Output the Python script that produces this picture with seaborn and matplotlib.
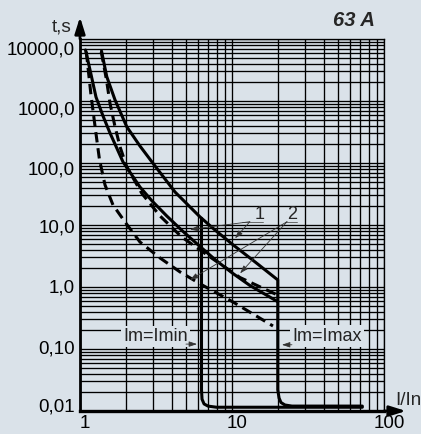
import matplotlib
matplotlib.use("Agg")
import matplotlib.pyplot as plt
import matplotlib.transforms as mtransforms
from matplotlib.ticker import FixedLocator, FixedFormatter, NullFormatter
import numpy as np
import pandas as pd
import seaborn as sns

# ---------------- data (I/In , t in s) ----------------
# curve 1, upper boundary (continues into the Im=Imax release at 20 In)
c1_upper_I = [1.385, 1.50, 1.70, 2.03, 2.48, 3.02, 4.22, 6.16, 7.73, 10.2, 14.2, 20.0,
              20.0, 20.4, 21.0, 22.3, 24.8, 72.0]
c1_upper_t = [6400, 2470, 1040, 385, 188, 99, 34, 13.5, 8.3, 4.75, 2.53, 1.30,
              0.022, 0.0162, 0.0137, 0.0125, 0.0120, 0.0120]
# Im=Imin release branch
imin_I = [6.3, 6.3, 6.35, 6.55, 6.95, 7.9, 72.0]
imin_t = [12.8, 0.022, 0.0155, 0.0130, 0.0120, 0.0115, 0.0115]
# curve 1, lower boundary
c1_lower_I = [1.087, 1.172, 1.274, 1.417, 1.575, 1.919, 2.48, 2.98, 3.72, 4.78, 6.16,
              7.93, 10.15, 13.1, 20.0]
c1_lower_t = [6650, 2940, 1160, 573, 305, 104, 41, 24.4, 14.0, 7.8, 4.5, 2.63, 1.65,
              1.06, 0.58]
# curve 2 (dashed), upper boundary
c2_upper_I = [1.38, 1.494, 1.575, 1.70, 1.833, 2.03, 2.55, 3.36, 4.67, 7.17, 11.3, 20.0]
c2_upper_t = [6240, 2180, 918, 385, 183, 87, 32.4, 14.0, 6.4, 3.05, 1.42, 0.74]
# curve 2 (dashed), lower boundary
c2_lower_I = [1.10, 1.181, 1.265, 1.344, 1.461, 1.649, 1.977, 2.48, 3.36, 4.55, 6.35,
              10.15, 18.6]
c2_lower_t = [6240, 1250, 340, 112, 44.2, 21.0, 11.2, 5.32, 2.94, 1.75, 1.08, 0.573, 0.235]

x_ticks = [1, 10, 100]
x_labels = ["1", "10", "100"]
y_ticks = [0.01, 0.1, 1, 10, 100, 1000, 10000]
y_labels = ["0,01", "0,10", "1,0", "10,0", "100,0", "1000,0", "10000,0"]
# the printed labels sit slightly off their grid lines (log10 of label centre)
y_label_pos_log = [-1.903, -0.963, 0.016, 0.976, 1.927, 2.895, 3.855]

# ---------------- style ----------------
BG = "#dae2e9"
sns.set_theme(style="white", rc={"figure.facecolor": BG, "axes.facecolor": BG})
plt.rcParams["font.family"] = ["Liberation Sans", "DejaVu Sans"]

W, H = 421, 434
fig = plt.figure(figsize=(W / 100, H / 100), dpi=100)
L, R, T, B = 80, 384, 39, 411
ax = fig.add_axes([L / W, 1 - B / H, (R - L) / W, (B - T) / H])
ax.set_xscale("log")
ax.set_yscale("log")
ax.set_xlim(1, 100)
ax.set_ylim(0.01, 10000)

# x grid: decades + minor
ax.xaxis.set_major_locator(FixedLocator(x_ticks))
ax.xaxis.set_major_formatter(FixedFormatter(x_labels))
ax.xaxis.set_minor_locator(FixedLocator([m * 10 ** e for e in range(0, 2) for m in range(2, 10)]))
ax.xaxis.set_minor_formatter(NullFormatter())
# y grid lines are all drawn from the minor locator; majors carry only the labels
y_grid = list(y_ticks) + [m * 10.0 ** e for e in range(-2, 4) for m in range(2, 10)]
ax.yaxis.set_minor_locator(FixedLocator(y_grid))
ax.yaxis.set_minor_formatter(NullFormatter())
ax.yaxis.set_major_locator(FixedLocator([10 ** p for p in y_label_pos_log]))
ax.yaxis.set_major_formatter(FixedFormatter(y_labels))

ax.grid(which="both", axis="x", color="black", linewidth=0.95)
ax.grid(which="minor", axis="y", color="black", linewidth=0.95)
ax.grid(which="major", axis="y", visible=False)
ax.set_axisbelow(True)
ax.tick_params(which="both", length=0, labelsize=13.6, colors="black")
ax.tick_params(axis="y", pad=3.6)
ax.tick_params(axis="x", pad=3.0)
offset = mtransforms.ScaledTranslation(5 / 100, 0, fig.dpi_scale_trans)
for lab in ax.get_xticklabels():
    lab.set_transform(lab.get_transform() + offset)

for s in ["top", "right"]:
    ax.spines[s].set_linewidth(0.95)
    ax.spines[s].set_color("black")
ax.spines["left"].set_linewidth(2.0)
ax.spines["bottom"].set_linewidth(2.4)
ax.spines["left"].set_color("black")
ax.spines["bottom"].set_color("black")

# ---------------- curves ----------------
for I, t in [(c1_upper_I, c1_upper_t), (imin_I, imin_t), (c1_lower_I, c1_lower_t)]:
    df = pd.DataFrame({"I": I, "t": t})
    sns.lineplot(data=df, x="I", y="t", sort=False, estimator=None, ax=ax,
                 color="black", linewidth=2.2, zorder=3)
for I, t in [(c2_upper_I, c2_upper_t), (c2_lower_I, c2_lower_t)]:
    df = pd.DataFrame({"I": I, "t": t})
    sns.lineplot(data=df, x="I", y="t", sort=False, estimator=None, ax=ax,
                 color="black", linewidth=2.2, zorder=3)
    ax.lines[-1].set_dashes((3.4, 1.9))
ax.set_xlabel("")
ax.set_ylabel("")

# ---------------- annotations ----------------
ax.text(15.3, 15.0, "1", fontsize=13, ha="center", va="center", zorder=5)
ax.text(24.8, 15.0, "2", fontsize=13, ha="center", va="center", zorder=5)
lead = dict(color="#555555", lw=0.6)
ax.plot([11.6, 16.0], [11.3, 11.3], zorder=4, **lead)
ax.plot([22.3, 26.8], [11.3, 11.3], zorder=4, **lead)
arr = dict(arrowstyle="-|>,head_length=0.6,head_width=0.2", color="#333333", lw=0.6,
           shrinkA=0, shrinkB=0, mutation_scale=8)
ax.annotate("", xy=(5.29, 8.45), xytext=(13.1, 11.3), arrowprops=arr, zorder=4)
ax.annotate("", xy=(10.47, 6.1), xytext=(13.1, 11.3), arrowprops=arr, zorder=4)
ax.annotate("", xy=(11.3, 1.66), xytext=(23.0, 11.3), arrowprops=arr, zorder=4)
ax.annotate("", xy=(5.29, 1.30), xytext=(23.0, 11.3), arrowprops=arr, zorder=4)

ax.text(1.918, 0.136, "Im=Imin", fontsize=13, color="#222222", ha="left", va="baseline",
        zorder=4, bbox=dict(facecolor=BG, edgecolor="none", pad=1.5))
ax.text(24.8, 0.137, "Im=Imax", fontsize=13, color="#222222", ha="left", va="baseline",
        zorder=4, bbox=dict(facecolor=BG, edgecolor="none", pad=1.5))
ax.annotate("", xy=(5.89, 0.12), xytext=(4.98, 0.12), arrowprops=arr, zorder=4)
ax.annotate("", xy=(21.3, 0.117), xytext=(24.8, 0.117), arrowprops=arr, zorder=4)

# axis arrows
axarr = dict(arrowstyle="-|>,head_length=0.7,head_width=0.22", color="black", lw=2.0,
             shrinkA=0, shrinkB=0, mutation_scale=14)
ax.annotate("", xy=(0, 1 + 22 / (B - T)), xytext=(0, 1), xycoords="axes fraction",
            textcoords="axes fraction", arrowprops=axarr, annotation_clip=False)
ax.annotate("", xy=(1 + 22 / (R - L), 0), xytext=(1, 0), xycoords="axes fraction",
            textcoords="axes fraction", arrowprops=axarr, annotation_clip=False)

fig.text(72 / W, 1 - 32 / H, "t,s", fontsize=13.6, ha="right", va="baseline")
fig.text(395 / W, 1 - 405 / H, "I/In", fontsize=13.6, ha="left", va="baseline")
fig.text(375 / W, 1 - 26 / H, "63 A", fontsize=14.5, fontweight="bold", fontstyle="italic",
         ha="right", va="baseline")

fig.savefig("out.png", dpi=100, facecolor=BG)
